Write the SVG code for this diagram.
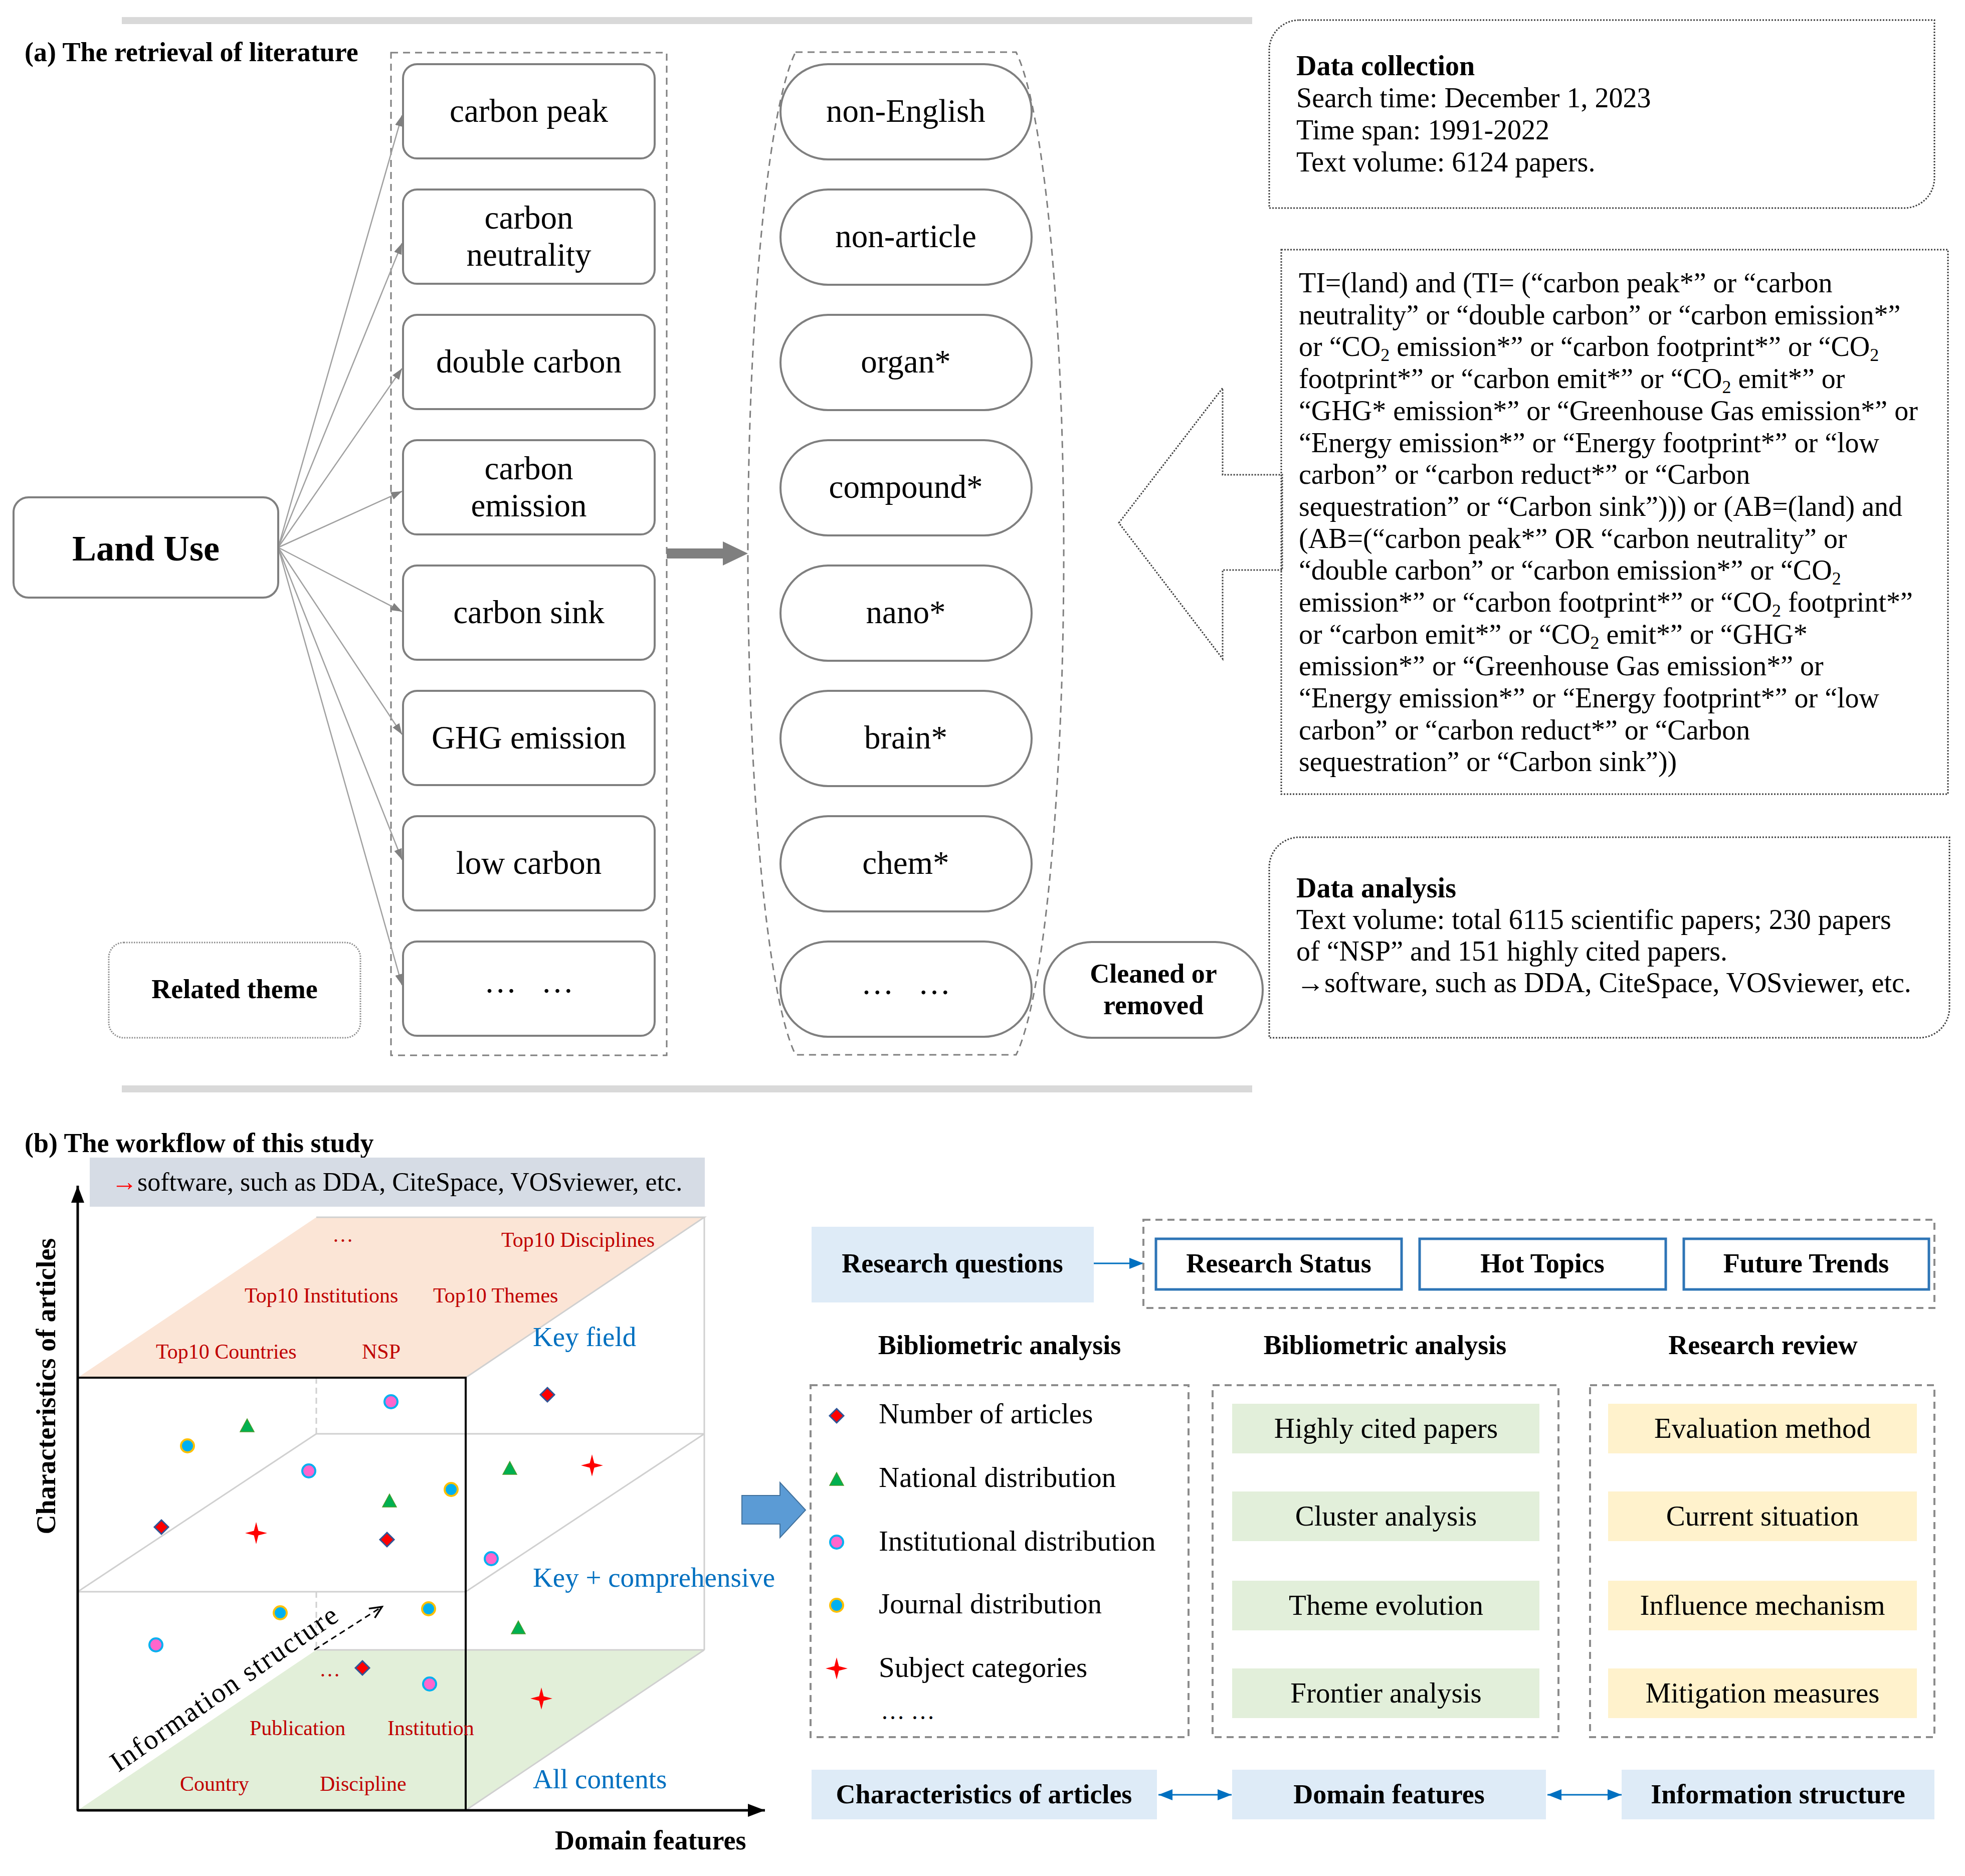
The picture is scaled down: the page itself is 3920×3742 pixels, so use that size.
<svg xmlns="http://www.w3.org/2000/svg" width="3920" height="3742" viewBox="0 0 3920 3742">
<defs>
<style>
text{font-family:"Liberation Serif","Times New Roman",serif;fill:#000}
.b{font-weight:bold}
.kw{font-size:65px;text-anchor:middle}
.kbox{fill:#fff;stroke:#7f7f7f;stroke-width:4}
.dash{fill:none;stroke:#7f7f7f;stroke-width:3;stroke-dasharray:14 10}
.dot{fill:none;stroke:#404040;stroke-width:3;stroke-dasharray:3 3}
.fan{stroke:#a0a0a0;stroke-width:2.5;fill:none;marker-end:url(#ah)}
.body{font-size:56px}
.red{fill:#c00000;font-size:42px}
.blue{fill:#0070c0;font-size:55px}
.edge{stroke:#d0d0d0;stroke-width:3;fill:none}
.lg{font-size:57px}
.bx{font-size:57px;text-anchor:middle}
.bh{font-size:54px;font-weight:bold;text-anchor:middle}
.lblue{fill:#deebf7}
.green{fill:#e2efda}
.yel{fill:#fff2cc}
.stat{fill:#fff;stroke:#2e75b6;stroke-width:5}
.bdash{fill:none;stroke:#8c8c8c;stroke-width:4;stroke-dasharray:14 10}
.barrow{stroke:#0070c0;stroke-width:3;fill:none}
.sub{font-size:36px}
</style>
<marker id="ah" markerUnits="userSpaceOnUse" markerWidth="24" markerHeight="18" refX="22" refY="8" orient="auto"><path d="M0,0 L22,8 L0,16 Z" fill="#808080"/></marker>
<marker id="axh" markerUnits="userSpaceOnUse" markerWidth="36" markerHeight="28" refX="34" refY="13" orient="auto"><path d="M0,0 L34,13 L0,26 Z" fill="#000"/></marker>
<marker id="bah" markerUnits="userSpaceOnUse" markerWidth="30" markerHeight="24" refX="28" refY="11" orient="auto-start-reverse"><path d="M0,0 L28,11 L0,22 Z" fill="#0070c0"/></marker>
<marker id="oh" markerUnits="userSpaceOnUse" markerWidth="30" markerHeight="30" refX="26" refY="13" orient="auto"><path d="M2,2 L26,13 L2,24" fill="none" stroke="#000" stroke-width="3.5"/></marker>
<g id="dia"><path d="M0,-14 L14,0 L0,14 L-14,0 Z" fill="#ff0000" stroke="#2f5597" stroke-width="3"/></g>
<g id="tri"><path d="M0,-15 L14,11 L-14,11 Z" fill="#00b050" stroke="#4e9a2a" stroke-width="1.5"/></g>
<g id="pink"><circle r="13" fill="#ff66cc" stroke="#00b0f0" stroke-width="4"/></g>
<g id="jour"><circle r="13" fill="#00b0f0" stroke="#ffc000" stroke-width="4"/></g>
<g id="star"><path d="M0,-22 L4.5,-4.5 L22,0 L4.5,4.5 L0,22 L-4.5,4.5 L-22,0 L-4.5,-4.5 Z" fill="#ff0000"/></g>
</defs>
<rect width="3920" height="3742" fill="#fff"/>

<!-- separators -->
<rect x="243" y="34" width="2255" height="14" fill="#d9d9d9"/>
<rect x="243" y="2165" width="2255" height="14" fill="#d9d9d9"/>

<text x="49" y="122" class="b" font-size="54">(a) The retrieval of literature</text>

<!-- containers -->
<rect id="keyword-container" x="780" y="105" width="550" height="2000" class="dash"/>
<path id="exclusion-container" d="M1587,104 H2027 A125,1030 0 0 1 2027,2104 H1587 A125,1030 0 0 1 1587,104 Z" class="dash"/>

<g id="connectors">
<line x1="555" y1="1092" x2="802" y2="230" class="fan"/>
<line x1="555" y1="1092" x2="802" y2="485" class="fan"/>
<line x1="555" y1="1092" x2="802" y2="735" class="fan"/>
<line x1="555" y1="1092" x2="802" y2="980" class="fan"/>
<line x1="555" y1="1092" x2="802" y2="1220" class="fan"/>
<line x1="555" y1="1092" x2="802" y2="1465" class="fan"/>
<line x1="555" y1="1092" x2="802" y2="1715" class="fan"/>
<line x1="555" y1="1092" x2="802" y2="1965" class="fan"/>
<polygon points="1330,1094 1442,1094 1442,1080 1492,1104 1442,1128 1442,1114 1330,1114" fill="#7f7f7f"/>
<polygon points="2232,1043 2439,774 2439,947 2558,947 2558,1137 2439,1137 2439,1314" class="dot"/>
<line x1="2182" y1="2520" x2="2281" y2="2520" class="barrow" marker-end="url(#bah)"/>
<line x1="2311" y1="3580" x2="2457" y2="3580" class="barrow" marker-start="url(#bah)" marker-end="url(#bah)"/>
<line x1="3087" y1="3580" x2="3235" y2="3580" class="barrow" marker-start="url(#bah)" marker-end="url(#bah)"/>
<polygon points="1480,2983 1556,2983 1556,2957 1607,3012 1556,3067 1556,3040 1480,3040" fill="#5b9bd5" stroke="#41719c" stroke-width="2"/>
</g>

<g id="land-use"><rect x="27" y="992" width="528" height="200" rx="30" class="kbox"/><text x="291" y="1118" class="b" font-size="72" text-anchor="middle">Land Use</text></g>
<g id="related-theme"><rect x="217" y="1880" width="502" height="190" rx="30" fill="none" stroke="#8c8c8c" stroke-width="3" stroke-dasharray="2.5 2.5"/><text x="468" y="1991" class="b" font-size="54" text-anchor="middle">Related theme</text></g>

<g id="kw-carbon-peak"><rect x="804" y="128" width="502" height="188" rx="28" class="kbox"/><text x="1055" y="243" class="kw">carbon peak</text></g>
<g id="kw-carbon-neutrality"><rect x="804" y="378" width="502" height="188" rx="28" class="kbox"/><text x="1055" y="456" class="kw">carbon</text><text x="1055" y="530" class="kw">neutrality</text></g>
<g id="kw-double-carbon"><rect x="804" y="628" width="502" height="188" rx="28" class="kbox"/><text x="1055" y="743" class="kw">double carbon</text></g>
<g id="kw-carbon-emission"><rect x="804" y="878" width="502" height="188" rx="28" class="kbox"/><text x="1055" y="956" class="kw">carbon</text><text x="1055" y="1030" class="kw">emission</text></g>
<g id="kw-carbon-sink"><rect x="804" y="1128" width="502" height="188" rx="28" class="kbox"/><text x="1055" y="1243" class="kw">carbon sink</text></g>
<g id="kw-ghg"><rect x="804" y="1378" width="502" height="188" rx="28" class="kbox"/><text x="1055" y="1493" class="kw">GHG emission</text></g>
<g id="kw-low-carbon"><rect x="804" y="1628" width="502" height="188" rx="28" class="kbox"/><text x="1055" y="1743" class="kw">low carbon</text></g>
<g id="kw-more"><rect x="804" y="1878" width="502" height="188" rx="28" class="kbox"/><text x="1055" y="1980" class="kw" font-size="44">…&#160;&#160;&#160;…</text></g>

<g id="ex-non-english"><rect x="1557" y="128" width="501" height="190" rx="95" class="kbox"/><text x="1807" y="243" class="kw">non-English</text></g>
<g id="ex-non-article"><rect x="1557" y="378" width="501" height="190" rx="95" class="kbox"/><text x="1807" y="493" class="kw">non-article</text></g>
<g id="ex-organ"><rect x="1557" y="628" width="501" height="190" rx="95" class="kbox"/><text x="1807" y="743" class="kw">organ*</text></g>
<g id="ex-compound"><rect x="1557" y="878" width="501" height="190" rx="95" class="kbox"/><text x="1807" y="993" class="kw">compound*</text></g>
<g id="ex-nano"><rect x="1557" y="1128" width="501" height="190" rx="95" class="kbox"/><text x="1807" y="1243" class="kw">nano*</text></g>
<g id="ex-brain"><rect x="1557" y="1378" width="501" height="190" rx="95" class="kbox"/><text x="1807" y="1493" class="kw">brain*</text></g>
<g id="ex-chem"><rect x="1557" y="1628" width="501" height="190" rx="95" class="kbox"/><text x="1807" y="1743" class="kw">chem*</text></g>
<g id="ex-more"><rect x="1557" y="1878" width="501" height="190" rx="95" class="kbox"/><text x="1807" y="1983" class="kw" font-size="44">…&#160;&#160;&#160;…</text></g>
<g id="cleaned"><rect x="2083" y="1879" width="436" height="191" rx="95" class="kbox"/><text x="2301" y="1960" class="b" font-size="54" text-anchor="middle">Cleaned or</text><text x="2301" y="2023" class="b" font-size="54" text-anchor="middle">removed</text></g>

<g id="data-collection">
<path d="M2592,40 H3859 V355 A60,60 0 0 1 3799,415 H2532 V100 A60,60 0 0 1 2592,40 Z" class="dot"/>
<text x="2586" y="150" class="b body">Data collection</text>
<text x="2586" y="214" class="body">Search time: December 1, 2023</text>
<text x="2586" y="278" class="body">Time span: 1991-2022</text>
<text x="2586" y="342" class="body">Text volume: 6124 papers.</text>
</g>

<g id="query">
<rect x="2556" y="498" width="1330" height="1086" class="dot"/>
<text x="2591" y="583" class="body">TI=(land) and (TI= (“carbon peak*” or “carbon</text>
<text x="2591" y="647" class="body">neutrality” or “double carbon” or “carbon emission*”</text>
<text x="2591" y="710" class="body">or “CO<tspan dy="10" class="sub">2</tspan><tspan dy="-10"> emission*” or “carbon footprint*” or “CO</tspan><tspan dy="10" class="sub">2</tspan></text>
<text x="2591" y="774" class="body">footprint*” or “carbon emit*” or “CO<tspan dy="10" class="sub">2</tspan><tspan dy="-10"> emit*” or</tspan></text>
<text x="2591" y="838" class="body">“GHG* emission*” or “Greenhouse Gas emission*” or</text>
<text x="2591" y="902" class="body">“Energy emission*” or “Energy footprint*” or “low</text>
<text x="2591" y="965" class="body">carbon” or “carbon reduct*” or “Carbon</text>
<text x="2591" y="1029" class="body">sequestration” or “Carbon sink”))) or (AB=(land) and</text>
<text x="2591" y="1093" class="body">(AB=(“carbon peak*” OR “carbon neutrality” or</text>
<text x="2591" y="1156" class="body">“double carbon” or “carbon emission*” or “CO<tspan dy="10" class="sub">2</tspan></text>
<text x="2591" y="1220" class="body">emission*” or “carbon footprint*” or “CO<tspan dy="10" class="sub">2</tspan><tspan dy="-10"> footprint*”</tspan></text>
<text x="2591" y="1284" class="body">or “carbon emit*” or “CO<tspan dy="10" class="sub">2</tspan><tspan dy="-10"> emit*” or “GHG*</tspan></text>
<text x="2591" y="1347" class="body">emission*” or “Greenhouse Gas emission*” or</text>
<text x="2591" y="1411" class="body">“Energy emission*” or “Energy footprint*” or “low</text>
<text x="2591" y="1475" class="body">carbon” or “carbon reduct*” or “Carbon</text>
<text x="2591" y="1538" class="body">sequestration” or “Carbon sink”))</text>
</g>

<g id="data-analysis">
<path d="M2592,1670 H3889 V2010 A60,60 0 0 1 3829,2070 H2532 V1730 A60,60 0 0 1 2592,1670 Z" class="dot"/>
<text x="2586" y="1790" class="b body">Data analysis</text>
<text x="2586" y="1853" class="body">Text volume: total 6115 scientific papers; 230 papers</text>
<text x="2586" y="1916" class="body">of “NSP” and 151 highly cited papers.</text>
<text x="2586" y="1979" class="body">→software, such as DDA, CiteSpace, VOSviewer, etc.</text>
</g>

<!-- (b) -->
<text x="49" y="2298" class="b" font-size="54">(b) The workflow of this study</text>
<g id="software-bar"><rect x="179" y="2309" width="1227" height="98" fill="#d6dce5"/><text x="222" y="2375" font-size="52"><tspan fill="#ff0000">→</tspan>software, such as DDA, CiteSpace, VOSviewer, etc.</text></g>

<g id="cube">
<polygon points="155,2748 929,2748 1405,2428 631,2428" fill="#fbe5d6"/>
<polygon points="155,3611 929,3611 1405,3291 631,3291" fill="#e2efd9"/>
<polyline points="929,2748 1405,2428 631,2428" class="edge"/>
<line x1="1405" y1="2428" x2="1405" y2="3291" class="edge"/>
<line x1="631" y1="3291" x2="1405" y2="3291" class="edge"/>
<line x1="929" y1="3611" x2="1405" y2="3291" class="edge"/>
<line x1="631" y1="2860" x2="1405" y2="2860" class="edge"/>
<line x1="155" y1="3175" x2="929" y2="3175" class="edge"/>
<line x1="155" y1="3175" x2="631" y2="2860" class="edge"/>
<line x1="929" y1="3175" x2="1405" y2="2860" class="edge"/>
<line x1="631" y1="2748" x2="631" y2="2860" class="edge" stroke-dasharray="12 8"/>
<line x1="631" y1="3175" x2="631" y2="3291" class="edge" stroke-dasharray="12 8"/>
<rect x="155" y="2748" width="774" height="863" fill="none" stroke="#000" stroke-width="4"/>
<line x1="155" y1="3611" x2="155" y2="2365" stroke="#000" stroke-width="5" marker-end="url(#axh)"/>
<line x1="155" y1="3611" x2="1526" y2="3611" stroke="#000" stroke-width="5" marker-end="url(#axh)"/>
<text transform="translate(110,2765) rotate(-90)" class="b" font-size="54" text-anchor="middle">Characteristics of articles</text>
<text x="1107" y="3689" class="b" font-size="54">Domain features</text>
<text x="684" y="2477" class="red" text-anchor="middle">…</text>
<text x="1000" y="2487" class="red">Top10 Disciplines</text>
<text x="488" y="2598" class="red">Top10 Institutions</text>
<text x="864" y="2598" class="red">Top10 Themes</text>
<text x="311" y="2710" class="red">Top10 Countries</text>
<text x="722" y="2710" class="red">NSP</text>
<text x="658" y="3344" class="red" text-anchor="middle">…</text>
<text x="498" y="3461" class="red">Publication</text>
<text x="773" y="3461" class="red">Institution</text>
<text x="359" y="3572" class="red">Country</text>
<text x="638" y="3572" class="red">Discipline</text>
<text x="1063" y="2685" class="blue">Key field</text>
<text x="1063" y="3165" class="blue">Key + comprehensive</text>
<text x="1063" y="3567" class="blue">All contents</text>
<text transform="translate(236,3536) rotate(-34.6)" font-size="56" letter-spacing="3" fill="#a6a6a6">Information structure</text>
<line x1="627" y1="3291" x2="762" y2="3205" stroke="#000" stroke-width="3" stroke-dasharray="12 8" marker-end="url(#oh)"/>
<use href="#pink" x="780" y="2796"/>
<use href="#dia" x="1092" y="2782"/>
<use href="#tri" x="493" y="2845"/>
<use href="#jour" x="374" y="2884"/>
<use href="#pink" x="616" y="2934"/>
<use href="#jour" x="900" y="2971"/>
<use href="#tri" x="1017" y="2930"/>
<use href="#star" x="1181" y="2923"/>
<use href="#tri" x="777" y="2995"/>
<use href="#dia" x="322" y="3046"/>
<use href="#star" x="511" y="3058"/>
<use href="#dia" x="772" y="3071"/>
<use href="#pink" x="980" y="3109"/>
<use href="#jour" x="559" y="3217"/>
<use href="#jour" x="855" y="3209"/>
<use href="#tri" x="1034" y="3248"/>
<use href="#pink" x="311" y="3281"/>
<use href="#dia" x="723" y="3327"/>
<use href="#pink" x="857" y="3359"/>
<use href="#star" x="1080" y="3388"/>
</g>

<g id="research-questions"><rect x="1619" y="2447" width="563" height="151" class="lblue"/><text x="1900" y="2538" class="bh">Research questions</text></g>
<rect id="questions-frame" x="2281" y="2433" width="1578" height="176" class="bdash"/>
<g id="research-status"><rect x="2306" y="2471" width="490" height="101" class="stat"/><text x="2551" y="2538" class="bh">Research Status</text></g>
<g id="hot-topics"><rect x="2832" y="2471" width="491" height="101" class="stat"/><text x="3077" y="2538" class="bh">Hot Topics</text></g>
<g id="future-trends"><rect x="3359" y="2471" width="489" height="101" class="stat"/><text x="3603" y="2538" class="bh">Future Trends</text></g>

<text x="1994" y="2701" class="bh">Bibliometric analysis</text>
<text x="2763" y="2701" class="bh">Bibliometric analysis</text>
<text x="3517" y="2701" class="bh">Research review</text>

<g id="legend-box">
<rect x="1617" y="2763" width="754" height="702" class="bdash"/>
<use href="#dia" x="1669" y="2824"/>
<use href="#tri" x="1669" y="2952"/>
<use href="#pink" x="1669" y="3076"/>
<use href="#jour" x="1669" y="3202"/>
<use href="#star" x="1669" y="3328"/>
<text x="1753" y="2839" class="lg">Number of articles</text>
<text x="1753" y="2966" class="lg">National distribution</text>
<text x="1753" y="3093" class="lg">Institutional distribution</text>
<text x="1753" y="3218" class="lg">Journal distribution</text>
<text x="1753" y="3345" class="lg">Subject categories</text>
<text x="1757" y="3429" font-size="48">…&#160;…</text>
</g>

<g id="bibliometric-box">
<rect x="2419" y="2763" width="690" height="702" class="bdash"/>
<rect x="2458" y="2800" width="613" height="99" class="green"/><text x="2765" y="2868" class="bx">Highly cited papers</text>
<rect x="2458" y="2975" width="613" height="99" class="green"/><text x="2765" y="3043" class="bx">Cluster analysis</text>
<rect x="2458" y="3153" width="613" height="99" class="green"/><text x="2765" y="3221" class="bx">Theme evolution</text>
<rect x="2458" y="3328" width="613" height="99" class="green"/><text x="2765" y="3396" class="bx">Frontier analysis</text>
</g>

<g id="review-box">
<rect x="3172" y="2763" width="687" height="702" class="bdash"/>
<rect x="3208" y="2800" width="616" height="99" class="yel"/><text x="3516" y="2868" class="bx">Evaluation method</text>
<rect x="3208" y="2975" width="616" height="99" class="yel"/><text x="3516" y="3043" class="bx">Current situation</text>
<rect x="3208" y="3153" width="616" height="99" class="yel"/><text x="3516" y="3221" class="bx">Influence mechanism</text>
<rect x="3208" y="3328" width="616" height="99" class="yel"/><text x="3516" y="3396" class="bx">Mitigation measures</text>
</g>

<g id="char-articles"><rect x="1619" y="3530" width="689" height="99" class="lblue"/><text x="1963" y="3597" class="bh">Characteristics of articles</text></g>
<g id="domain-features"><rect x="2458" y="3530" width="626" height="99" class="lblue"/><text x="2771" y="3597" class="bh">Domain features</text></g>
<g id="info-structure"><rect x="3235" y="3530" width="624" height="99" class="lblue"/><text x="3547" y="3597" class="bh">Information structure</text></g>
</svg>
